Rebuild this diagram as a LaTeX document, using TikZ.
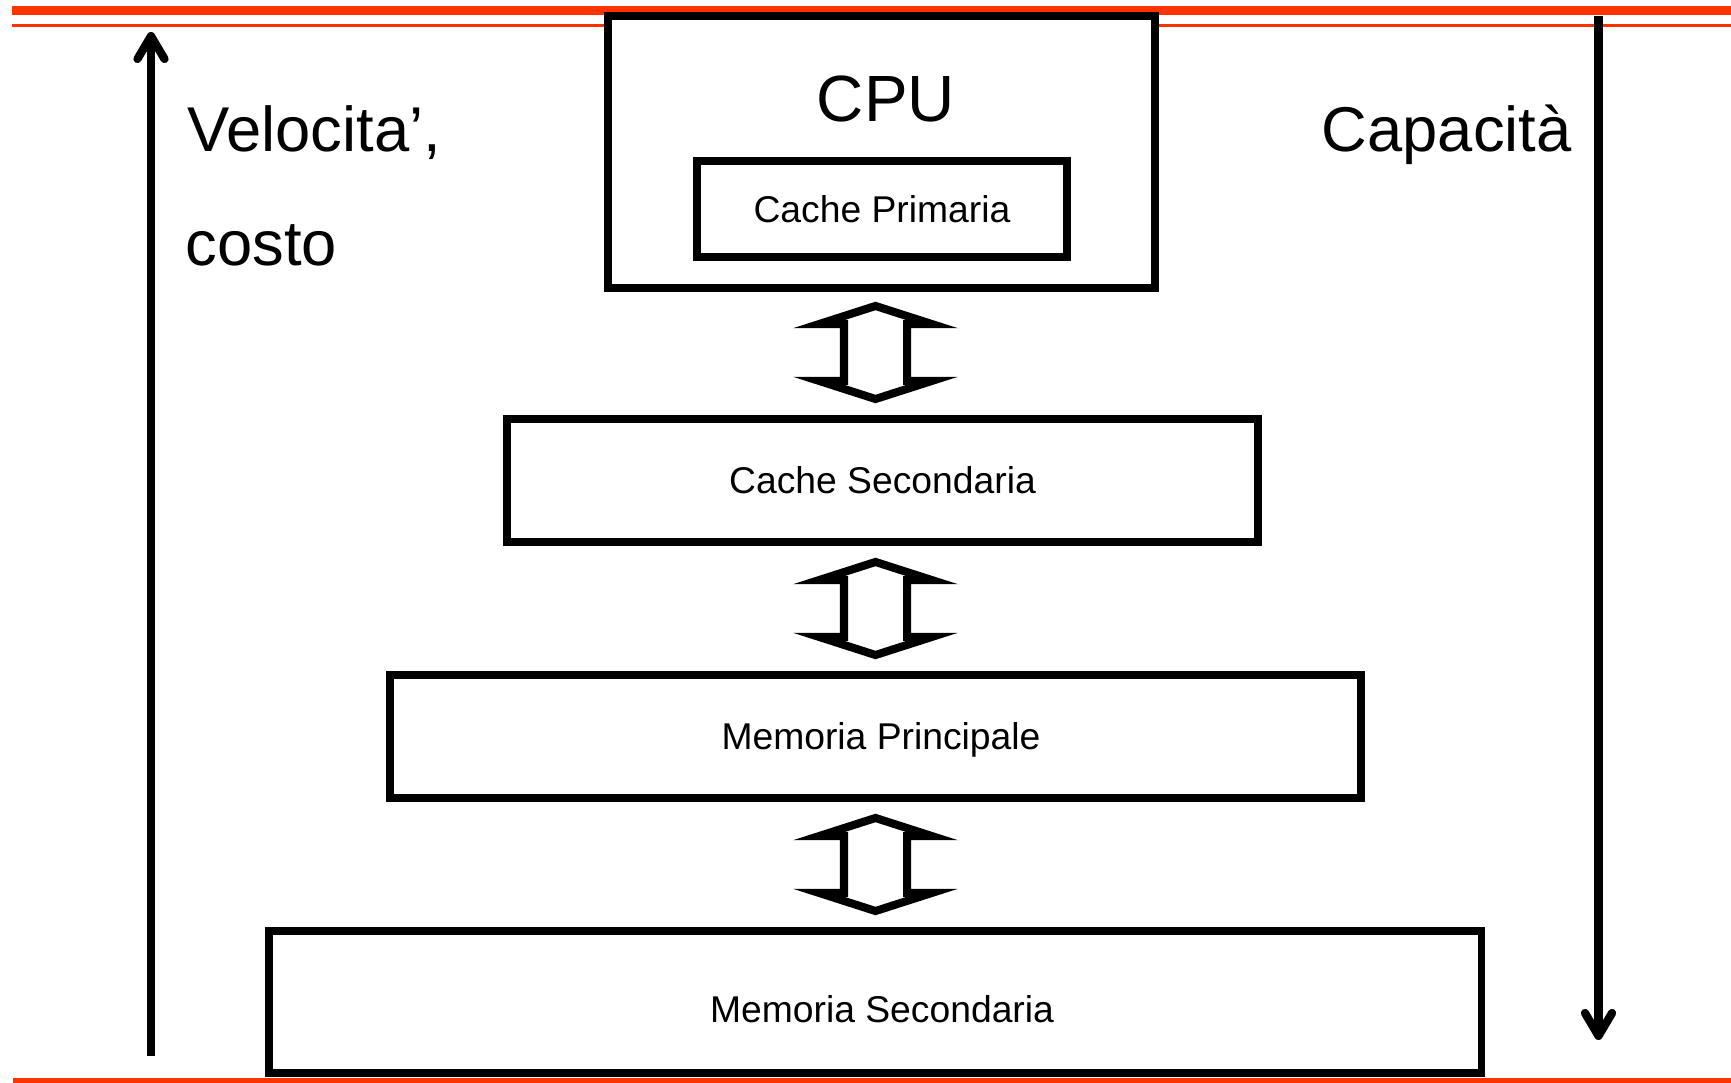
\documentclass[tikz,border=0pt]{standalone}
\usepackage{fontspec}
\setmainfont{Liberation Sans}
\usetikzlibrary{shapes.arrows,arrows.meta}
\definecolor{bandred}{RGB}{255,51,0}
\tikzset{
    x=0.01cm, y=-0.01cm, % one unit per pixel, y pointing down
    }

\begin{document}
\begin{tikzpicture}[
levelbox/.style={rectangle, draw=black, fill=white, line width=2.2pt, inner sep=0pt},
boxtext/.style={inner sep=0pt, font=\fontsize{10.6}{12}\selectfont, text height=7.6pt, text depth=0pt},
bigtext/.style={inner sep=0pt, anchor=base west, font=\fontsize{18}{20}\selectfont},
hollowarrow/.style={double arrow, draw=black, line width=2.3pt, rotate=90, minimum height=0.93cm, minimum width=1.05cm, inner xsep=0pt, inner ysep=0.275cm, double arrow head extend=0.25cm, double arrow tip angle=144.4, text height=0pt, text depth=0pt},
scalearrow/.style={line width=2.35pt, -{Straight Barb[round, length=6.5pt, width=7.7pt]}},
]
\useasboundingbox (0,0) rectangle (1731,1083);

% red bands
\fill[bandred] (12,6) rectangle (1731,15);
\fill[bandred] (12,24) rectangle (1731,27);
\fill[bandred] (13,1078) rectangle (1731,1083);

\node[levelbox, minimum width=5.47cm, minimum height=2.72cm] (cpu) at (881.5,152) {};
\node[anchor=base, inner sep=0pt, font=\fontsize{18.6}{22}\selectfont] (cpulabel) at (886,122) {CPU};
\node[levelbox, minimum width=3.70cm, minimum height=0.96cm] (cp) at (882,209) {};
\node[boxtext] (cptext) at (cp.center) {Cache Primaria};
\node[levelbox, minimum width=7.51cm, minimum height=1.23cm] (cs) at (882.5,480.5) {};
\node[boxtext] (cstext) at (cs.center) {Cache Secondaria};
\node[levelbox, minimum width=9.70cm, minimum height=1.23cm] (mp) at (875.5,736.5) {};
\node[boxtext] (mptext) at ([xshift=0.055cm]mp.center) {Memoria Principale};
\node[levelbox, minimum width=12.12cm, minimum height=1.42cm] (ms) at (875,1002) {};
\node[boxtext] (mstext) at ([xshift=0.07cm, yshift=-0.07cm]ms.center) {Memoria Secondaria};

\node[hollowarrow] (cpucs) at (875.5,352.5) {};
\node[hollowarrow] (csmp) at (875.5,608.5) {};
\node[hollowarrow] (mpms) at (875.5,864.5) {};

% scales on the sides
\coordinate (speedlow) at (151,1056);
\coordinate (speedhigh) at (151,32);
\draw[scalearrow] (speedlow) -- (speedhigh);
\coordinate (sizelow) at (1598.5,16);
\coordinate (sizehigh) at (1598.5,1040);
\draw[scalearrow] (sizelow) -- (sizehigh);

\node[bigtext] (speedlabel) at (187,151.7) {Velocita’,};
\node[bigtext] (costlabel) at (185,266) {costo};
\node[bigtext] (sizelabel) at (1321,151.7) {Capacità};
\end{tikzpicture}
\end{document}
